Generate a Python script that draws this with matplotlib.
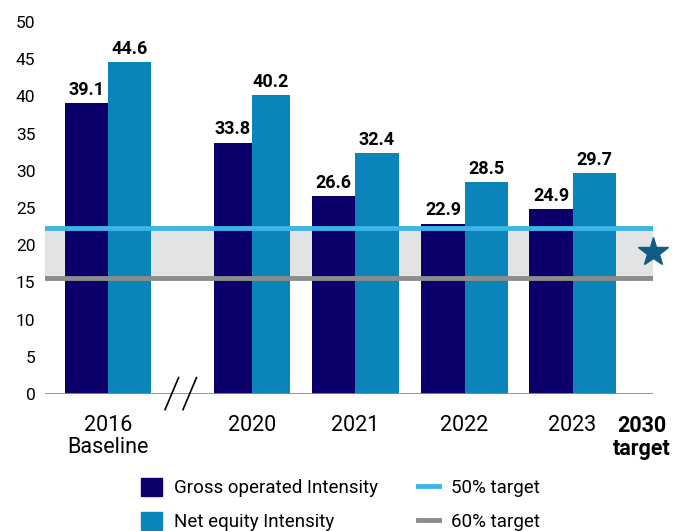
import numpy as np
import matplotlib.pyplot as plt
from matplotlib.patches import Patch
from matplotlib.lines import Line2D

plt.rcParams['font.family'] = ['Roboto', 'DejaVu Sans']

# datos
years = ['2016\nBaseline', '2020', '2021', '2022', '2023']
gross = [39.1, 33.8, 26.6, 22.9, 24.9]
net = [44.6, 40.2, 32.4, 28.5, 29.7]
target_50 = 22.3
target_60 = 15.6
target_2030 = 19.1

# posiciones de los grupos (eje roto entre 2016 y 2020)
pos = np.array([0.0, 1.33, 2.29, 3.30, 4.30])
widths = np.array([0.40, 0.35, 0.40, 0.40, 0.40])
pos_2030 = 4.94

c_gross = '#0b006b'
c_net = '#0b84ba'
c_50 = '#3cb4e6'
c_60 = '#8c8c8c'

fig = plt.figure(figsize=(6.76, 5.31), dpi=100)
ax = fig.add_axes([45/676, 1-394/531, (653-45)/676, (394-22)/531])

ax.axhspan(target_60, target_50, color='#e2e3e5', zorder=0)
ax.bar(pos - widths/2, gross, widths, color=c_gross, zorder=2)
ax.bar(pos + widths/2, net, widths, color=c_net, zorder=2)
ax.axhline(target_50, color=c_50, lw=3.5, zorder=3)
ax.axhline(target_60, color=c_60, lw=3.5, zorder=3)
ax.axhline(0, color='#8c8c8c', lw=2, zorder=3)

for x, w, g, n in zip(pos, widths, gross, net):
    ax.annotate(f'{g}', (x - w/2, g), xytext=(0, 3), textcoords='offset points',
                ha='center', va='bottom', fontsize=13, fontweight='bold')
    ax.annotate(f'{n}', (x + w/2, n), xytext=(0, 3), textcoords='offset points',
                ha='center', va='bottom', fontsize=13, fontweight='bold')

# estrella de la meta 2030
ax.plot([5.04], [target_2030], marker='*', ms=22, color='#0f5c86', clip_on=False, zorder=4)

# marcas del corte del eje
for x0 in [0.528, 0.694]:
    ax.plot([x0, x0 + 0.125], [-2.1, 2.2], color='black', lw=1.2, clip_on=False, zorder=5)

ax.set_xlim(-0.583, 5.044)
ax.set_ylim(0, 50)
ax.set_yticks(np.arange(0, 51, 5))
ax.tick_params(axis='y', length=0, labelsize=12.5, pad=7)
ax.tick_params(axis='x', length=0, labelsize=15.5, pad=15)
ax.set_xticks(list(pos) + [pos_2030])
ax.set_xticklabels(years + ['2030\ntarget'], linespacing=1.05)
ax.get_xticklabels()[-1].set_fontweight('bold')
for s in ax.spines.values():
    s.set_visible(False)

handles = [Patch(color=c_gross), Patch(color=c_net),
           Line2D([], [], color=c_50, lw=3.5), Line2D([], [], color=c_60, lw=3.5)]
labels = ['Gross operated Intensity', 'Net equity Intensity', '50% target', '60% target']
fig.legend(handles, labels, ncol=2, frameon=False, fontsize=13.5,
           loc='upper left', bbox_to_anchor=(124/676, 1-461/531),
           handlelength=1.1, handleheight=1.1, handletextpad=0.65,
           columnspacing=2.15, labelspacing=0.78, borderpad=0.4)

fig.savefig('out.png', dpi=100)
